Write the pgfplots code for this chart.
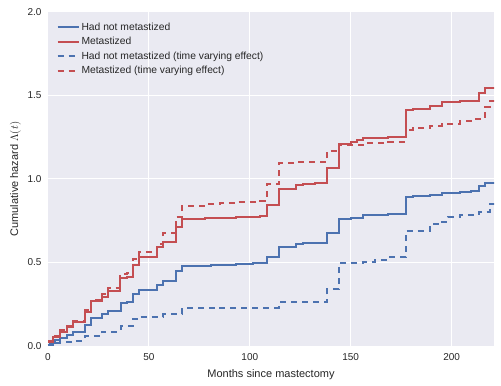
\documentclass[border=0pt]{standalone}
\usepackage{pgfplots}
\pgfplotsset{compat=1.18}
\usepackage{fontspec}
\setmainfont{Liberation Sans}
\definecolor{sbblue}{HTML}{4C72B0}
\definecolor{sbred}{HTML}{C44E52}
\definecolor{sbbg}{HTML}{EAEAF2}
\definecolor{sbtext}{HTML}{262626}
\begin{document}
\begin{tikzpicture}
\begin{axis}[
  name=ax,
  scale only axis,
  width=446bp, height=334bp,
  xmin=0, xmax=221, ymin=0, ymax=2,
  xtick={0,50,100,150,200},
  ytick={0,0.5,1,1.5,2},
  yticklabel style={/pgf/number format/.cd,fixed,fixed zerofill,precision=1},
  /pgf/number format/assume math mode=true,
  ticklabel style={font=\fontsize{10bp}{12bp}\selectfont, text=sbtext},
  major tick length=0pt,
  xtick align=inside, ytick align=inside,
  xticklabel shift=4bp,
  yticklabel shift=3bp,
  axis line style={draw=none},
  axis background/.style={fill=sbbg},
  grid=major,
  major grid style={white, line width=1bp},
  xlabel={Months since mastectomy},
  ylabel={Cumulative hazard $\Lambda(t)$},
  label style={font=\fontsize{11bp}{13bp}\selectfont, text=sbtext},
  xlabel style={yshift=-2bp},
  ylabel style={yshift=0bp},
  legend cell align=left,
  legend style={at={(0.012,0.98)}, anchor=north west, draw=none, fill=none,
    font=\fontsize{10.3bp}{12bp}\selectfont, text=sbtext, row sep=1.6bp},
  legend image code/.code={\draw[#1] (0bp,0bp) -- (21bp,0bp);},
  every axis plot/.append style={line width=2bp, const plot, mark=none},
]
\addplot[sbblue] coordinates {(0,0.006)(1,0.02)(3.5,0.036)(6,0.05)(9.2,0.066)(12.5,0.082)(18.3,0.126)(21.1,0.17)(26.9,0.19)(29.9,0.21)(36,0.26)(39,0.265)(41.9,0.31)(45.2,0.335)(53.8,0.365)(57.1,0.39)(63.4,0.45)(66.5,0.48)(81,0.485)(93.4,0.49)(101.6,0.495)(108.5,0.535)(114.5,0.595)(123.1,0.61)(126.4,0.615)(138.3,0.675)(144.1,0.76)(150.3,0.765)(156.1,0.784)(168.5,0.79)(177.2,0.89)(180.9,0.898)(189.1,0.906)(195.2,0.914)(204,0.922)(209.7,0.93)(213.4,0.96)(216.5,0.978)(222,0.978)};
\addlegendentry{Had not metastized}
\addplot[sbred] coordinates {(0,0.026)(2.6,0.052)(5.9,0.086)(9.2,0.112)(12.2,0.146)(18.3,0.205)(21.1,0.27)(26.6,0.295)(29.5,0.33)(35.9,0.405)(38.9,0.415)(41.9,0.485)(45.2,0.535)(53.8,0.59)(57.1,0.625)(63.4,0.715)(66.5,0.76)(78,0.765)(93.4,0.775)(105,0.78)(108.5,0.845)(114.5,0.94)(123.1,0.965)(126.4,0.97)(132.4,0.978)(138.3,1.068)(144.1,1.208)(150.3,1.22)(153,1.234)(156.1,1.247)(168.5,1.253)(177.2,1.413)(180.9,1.42)(189.1,1.439)(195.2,1.459)(204,1.469)(213.4,1.513)(216.5,1.545)(222,1.545)};
\addlegendentry{Metastized}
\addplot[sbblue, dash pattern=on 6bp off 5bp] coordinates {(0,0.005)(3.5,0.02)(6,0.026)(12.5,0.032)(18.3,0.06)(26.9,0.086)(36,0.12)(41.9,0.16)(45.2,0.175)(57.1,0.19)(66.5,0.226)(84.5,0.23)(114.5,0.262)(138.3,0.341)(144.1,0.495)(156.1,0.5)(162,0.515)(168.5,0.531)(177.2,0.69)(189.1,0.729)(195.2,0.745)(198,0.774)(204,0.784)(213.4,0.804)(219,0.85)(222,0.85)};
\addlegendentry{Had not metastized (time varying effect)}
\addplot[sbred, dash pattern=on 6bp off 5bp] coordinates {(0,0.03)(2.6,0.06)(5.9,0.095)(9.2,0.122)(12.2,0.15)(18.3,0.215)(21.1,0.275)(26.6,0.31)(29.5,0.35)(35.9,0.43)(38.9,0.44)(41.9,0.52)(45.2,0.56)(53.8,0.61)(57.1,0.675)(63.4,0.775)(66.5,0.838)(78,0.848)(85,0.857)(93.4,0.865)(105,0.87)(108.5,0.97)(114.5,1.094)(123.1,1.1)(138.3,1.168)(144.1,1.203)(156.1,1.214)(168.5,1.223)(177.2,1.293)(180.9,1.303)(189.1,1.317)(195.2,1.329)(204,1.347)(209.7,1.357)(216.5,1.433)(219,1.469)(222,1.469)};
\addlegendentry{Metastized (time varying effect)}
\end{axis}
\pgfresetboundingbox
\path ([xshift=-48bp,yshift=-40bp]ax.south west) rectangle ([xshift=7bp,yshift=12bp]ax.north east);
\end{tikzpicture}
\end{document}
